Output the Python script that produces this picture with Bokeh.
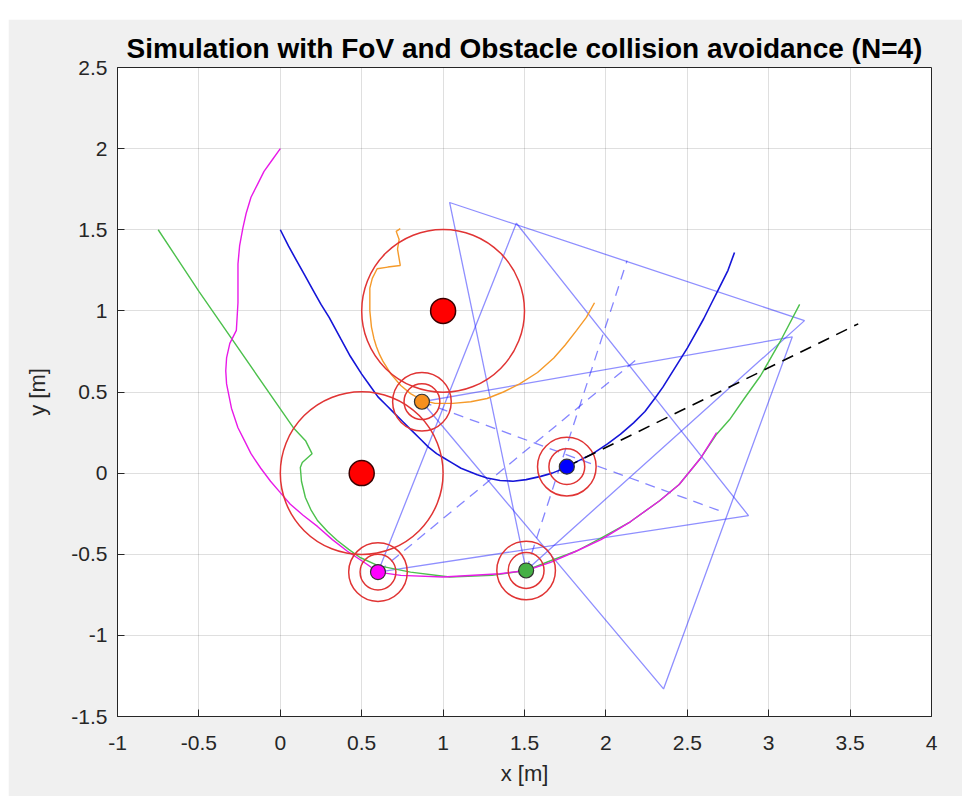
from bokeh.plotting import figure
from bokeh.models import Range1d, FixedTicker
from bokeh.embed import file_html
from bokeh.resources import INLINE

# ---- axes ----
x_ticks = [-1, -0.5, 0, 0.5, 1, 1.5, 2, 2.5, 3, 3.5, 4]
x_tick_labels = ["-1", "-0.5", "0", "0.5", "1", "1.5", "2", "2.5", "3", "3.5", "4"]
y_ticks = [-1.5, -1, -0.5, 0, 0.5, 1, 1.5, 2, 2.5]
y_tick_labels = ["-1.5", "-1", "-0.5", "0", "0.5", "1", "1.5", "2", "2.5"]

# ---- obstacles ----
obstacle_x = [1.0, 0.5]
obstacle_y = [1.0, 0.0]
obstacle_r = [0.5, 0.5]

# ---- agents (current positions) ----
agent_x = [1.76, 0.87, 0.60, 1.51]
agent_y = [0.04, 0.44, -0.61, -0.60]
agent_fill = ["#0000ff", "#f7901e", "#ff00ff", "#45b045"]
safety_radii = [0.18, 0.11]

# ---- trajectories ----
blue_x = [0.00, 0.05, 0.10, 0.15, 0.20, 0.25, 0.30, 0.37, 0.43, 0.50, 0.55, 0.60, 0.65,
          0.70, 0.75, 0.80, 0.86, 0.91, 0.96, 1.01, 1.06, 1.11, 1.16, 1.21, 1.27, 1.35,
          1.43, 1.51, 1.60, 1.67, 1.72, 1.76, 1.84, 1.92, 2.01, 2.09, 2.17, 2.24, 2.30,
          2.35, 2.40, 2.45, 2.50, 2.55, 2.60, 2.65, 2.70, 2.75, 2.79]
blue_y = [1.50, 1.40, 1.31, 1.22, 1.13, 1.04, 0.96, 0.83, 0.72, 0.61, 0.54, 0.47, 0.42,
          0.37, 0.32, 0.27, 0.21, 0.16, 0.12, 0.09, 0.06, 0.03, 0.01, -0.01, -0.03, -0.045,
          -0.05, -0.04, -0.02, 0.00, 0.02, 0.04, 0.08, 0.12, 0.18, 0.24, 0.31, 0.38, 0.46,
          0.53, 0.61, 0.69, 0.77, 0.86, 0.95, 1.05, 1.15, 1.25, 1.36]

orange_x = [0.737, 0.712, 0.73, 0.72, 0.737, 0.66, 0.595, 0.565, 0.55, 0.55, 0.56, 0.575,
            0.59, 0.61, 0.63, 0.68, 0.74, 0.80, 0.87, 0.95, 1.06, 1.17, 1.27, 1.37, 1.47,
            1.58, 1.68, 1.75, 1.82, 1.88, 1.93]
orange_y = [1.507, 1.49, 1.44, 1.38, 1.28, 1.27, 1.26, 1.20, 1.14, 1.00, 0.90, 0.83,
            0.78, 0.73, 0.69, 0.61, 0.54, 0.49, 0.45, 0.43, 0.43, 0.44, 0.46, 0.50, 0.55,
            0.62, 0.71, 0.79, 0.88, 0.96, 1.05]

magenta_x = [0.00, -0.05, -0.10, -0.14, -0.18, -0.21, -0.23, -0.25, -0.26, -0.26, -0.26,
             -0.27, -0.31, -0.33, -0.335, -0.33, -0.30, -0.26, -0.22, -0.18, -0.12, -0.06,
             0.00, 0.06, 0.14, 0.23, 0.32, 0.41, 0.53, 0.60, 0.74, 1.00, 1.35, 1.51,
             1.66, 1.82, 1.97, 2.15, 2.33, 2.45, 2.58, 2.68]
magenta_y = [2.00, 1.93, 1.86, 1.78, 1.70, 1.60, 1.51, 1.40, 1.29, 1.17, 1.05,
             0.88, 0.80, 0.71, 0.63, 0.55, 0.40, 0.28, 0.20, 0.12, 0.03, -0.05,
             -0.12, -0.19, -0.26, -0.33, -0.41, -0.48, -0.56, -0.61, -0.63, -0.64, -0.62, -0.60,
             -0.55, -0.48, -0.41, -0.30, -0.17, -0.07, 0.09, 0.25]

green_x = [-0.75, -0.50, 0.08, 0.155, 0.195, 0.135, 0.123, 0.13, 0.154, 0.19, 0.227, 0.29,
           0.35, 0.42, 0.49, 0.60, 0.80, 1.04, 1.30, 1.51, 1.66, 1.82, 1.97, 2.15, 2.33,
           2.45, 2.58, 2.68, 2.76, 2.85, 2.95, 3.07, 3.19]
green_y = [1.50, 1.12, 0.28, 0.20, 0.12, 0.065, 0.035, -0.05, -0.15, -0.23, -0.29, -0.36,
           -0.415, -0.47, -0.52, -0.57, -0.61, -0.64, -0.63, -0.60, -0.54, -0.48, -0.40,
           -0.30, -0.17, -0.07, 0.09, 0.24, 0.33, 0.46, 0.60, 0.81, 1.04]

# ---- field-of-view triangles (agent apex + two far corners) ----
fov_x = [[1.51, 1.04, 3.22],   # green
         [0.60, 1.45, 2.876],  # magenta
         [0.87, 3.145, 2.354]] # orange
fov_y = [[-0.60, 1.668, 0.94],
         [-0.61, 1.54, -0.262],
         [0.44, 0.84, -1.33]]

# ---- FoV centre directions ----
axis_x = [[0.87, 2.72], [1.51, 2.13], [0.60, 2.20]]
axis_y = [[0.44, -0.24], [-0.60, 1.31], [-0.61, 0.71]]

# ---- heading of the blue agent ----
heading_x = [1.76, 3.55]
heading_y = [0.04, 0.92]

FONT = "Liberation Sans"
INK = "#262626"

p = figure(width=954, height=777, margin=(19, 0, 0, 8),
           x_range=Range1d(-1, 4), y_range=Range1d(-1.5, 2.5),
           output_backend="svg", toolbar_location=None,
           min_border_left=109, min_border_right=31,
           min_border_top=48, min_border_bottom=80)

p.border_fill_color = "#f0f0f0"
p.background_fill_color = "white"
p.outline_line_color = INK
p.outline_line_width = 1

p.title.text = "Simulation with FoV and Obstacle collision avoidance (N=4)"
p.title.text_font = FONT
p.title.text_font_size = "28px"
p.title.text_font_style = "bold"
p.title.text_color = "black"
p.title.align = "center"
p.title.standoff = 8

for ax, ticks, labels in ((p.xaxis, x_ticks, x_tick_labels), (p.yaxis, y_ticks, y_tick_labels)):
    ax.ticker = FixedTicker(ticks=ticks)
    ax.major_label_overrides = dict(zip(ticks, labels))
    ax.major_label_text_font = FONT
    ax.major_label_text_font_size = "21px"
    ax.major_label_text_color = INK
    ax.axis_label_text_font = FONT
    ax.axis_label_text_font_size = "22px"
    ax.axis_label_text_font_style = "normal"
    ax.axis_label_text_color = INK
    ax.axis_line_color = INK
    ax.major_tick_line_color = INK
    ax.major_tick_in = 7
    ax.major_tick_out = 0
    ax.minor_tick_line_color = None

p.xaxis.axis_label = "x [m]"
p.yaxis.axis_label = "y [m]"
p.xaxis.major_label_standoff = 19
p.xaxis.axis_label_standoff = 8
p.yaxis.major_label_standoff = 10
p.yaxis.axis_label_standoff = 18

p.xgrid.ticker = FixedTicker(ticks=x_ticks)
p.ygrid.ticker = FixedTicker(ticks=y_ticks)
p.grid.grid_line_color = INK
p.grid.grid_line_alpha = 0.15
p.grid.grid_line_width = 1

# FoV triangles
p.patches(fov_x, fov_y, fill_color=None, line_color="#2020ff", line_alpha=0.5, line_width=1.3)
p.multi_line(axis_x, axis_y, line_color="#2020ff", line_alpha=0.55, line_width=1.3,
             line_dash="10 7")

# trajectories
p.line(green_x, green_y, line_color="#4cc04c", line_width=1.4)
p.line(magenta_x, magenta_y, line_color="#e81ae8", line_width=1.4)
p.line(orange_x, orange_y, line_color="#f59a2a", line_width=1.4)
p.line(blue_x, blue_y, line_color="#1515d8", line_width=1.6)

# obstacle influence circles
p.circle(obstacle_x, obstacle_y, radius=obstacle_r, fill_color=None,
         line_color="#e03434", line_width=1.5)

# agent safety rings
for r in safety_radii:
    p.circle(agent_x, agent_y, radius=r, fill_color=None,
             line_color="#e03434", line_width=1.5)

# heading line
p.line(heading_x, heading_y, line_color="black", line_width=1.6, line_dash="12 8")

# obstacle centres and agents
p.scatter(obstacle_x, obstacle_y, size=25, fill_color="#ff0000", line_color="#3a0000",
          line_width=1.5)
p.scatter(agent_x, agent_y, size=15, fill_color=agent_fill, line_color="#333333",
          line_width=1.2)

open("out.html", "w").write(file_html(p, INLINE))
